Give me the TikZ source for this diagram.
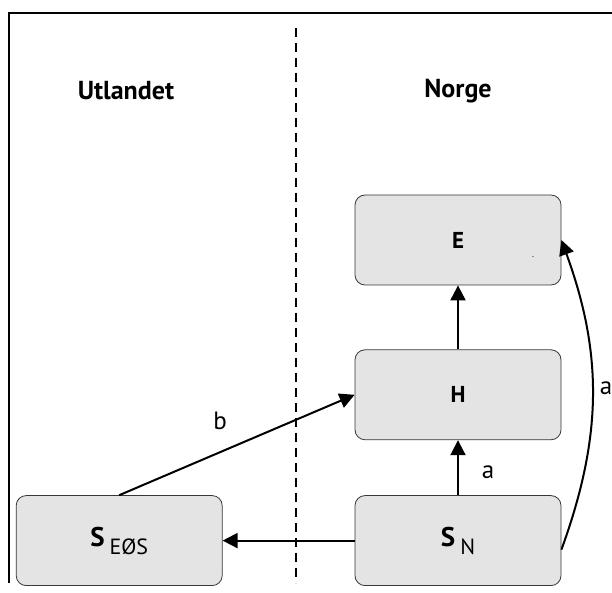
\documentclass[tikz,border=0pt]{standalone}
\usepackage{fontspec}
\setmainfont{PT Sans}
\usetikzlibrary{arrows.meta,positioning}
\definecolor{sectorfill}{RGB}{228,228,228}
\definecolor{sectorline}{RGB}{55,55,55}
\tikzset{
  sector/.style={draw=sectorline,line width=0.8pt,fill=sectorfill,rounded corners=10pt,
    minimum width=206pt,minimum height=90pt,inner sep=0pt,font=\fontsize{23}{23}\selectfont\bfseries},
  flow/.style={line width=2pt,-{Triangle[length=15pt,width=15pt]}},
  flowlab/.style={font=\fontsize{25}{25}\selectfont},
  region/.style={font=\fontsize{26}{26}\selectfont\bfseries},
}
\newcommand{\sectsym}[1]{{\fontsize{27}{27}\selectfont\bfseries S}\hspace{5pt}\raisebox{-8pt}{\fontsize{22}{22}\selectfont\mdseries #1}}

\begin{document}
\begin{tikzpicture}[x=1pt,y=1pt]
  \useasboundingbox (0,0) rectangle (612,593);
  % --- frame (top and left edge only) ---
  \draw[line width=2pt] (9,10) -- (9,580) -- (612,580);
  % --- border between the two regions ---
  \draw[line width=1.8pt,dash pattern=on 9pt off 6pt] (296,565) -- (296,10);
  % --- region headings ---
  \node[region] (utl) at (126,502) {Utlandet};
  \node[region] (nor) at (458,502) {Norge};
  % --- sectors ---
  \node[sector] (e) at (458,353) {E};
  \node[sector,below=64pt of e] (h) {H};
  \node[sector,below=55pt of h] (sn) {\sectsym{N}};
  \node[sector,left=132pt of sn] (seos) {\sectsym{EØS}};
  \node[font=\small] (dot) at (533,336) {.};
  % --- flows ---
  \draw[flow] (h) -- (e);
  \draw[flow] (sn) -- (h);
  \draw[flow] (sn) -- (seos);
  \draw[flow] (seos.north) -- (h.west);
  \draw[flow] (sn.-5) to[out=70,in=-70] (e.east);
  % --- flow labels ---
  \node[flowlab] (lb) at (220,172) {b};
  \node[flowlab] (la) at (488,121) {a};
  \node[flowlab] (lr) at (606,205) {a};
\end{tikzpicture}
\end{document}
